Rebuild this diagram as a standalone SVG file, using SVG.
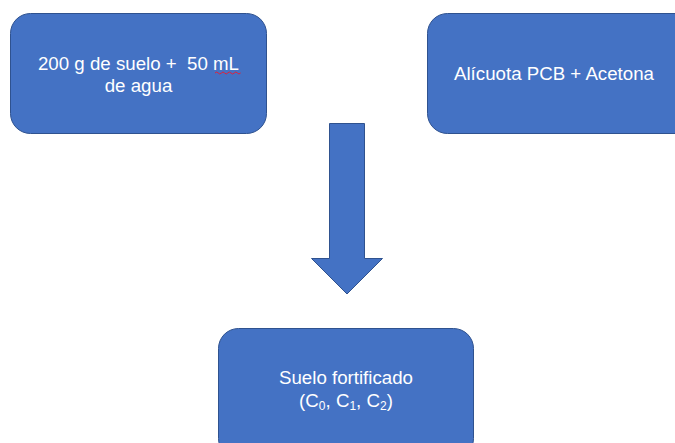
<svg xmlns="http://www.w3.org/2000/svg" width="675" height="443" viewBox="0 0 675 443">
<style>
.box{fill:#4472C4;stroke:#2F528F;stroke-width:1}
.t{fill:#FFFFFF;font-family:"Liberation Sans",Arial,sans-serif;font-size:18.7px;text-anchor:middle}
.sub{font-size:12px}
</style>
<rect width="675" height="443" fill="#FFFFFF"/>
<g id="node-suelo">
<rect class="box" x="10.5" y="13.5" width="256" height="120" rx="20"/>
<text class="t" x="138.5" y="70" xml:space="preserve">200 g de suelo +  50 mL</text>
<text class="t" x="138.5" y="92">de agua</text>
<path d="M215 73 q1.6 -2 3.2 0 t3.2 0 t3.2 0 t3.2 0 t3.2 0 t3.2 0 t3.2 0 t3.2 0" fill="none" stroke="#E0203A" stroke-width="1"/>
</g>
<g id="node-alicuota">
<rect class="box" x="427.5" y="13.5" width="270" height="120" rx="20"/>
<text class="t" x="554" y="80">Alícuota PCB + Acetona</text>
</g>
<g id="connectors">
<polygon class="box" points="329.5,123.5 364.5,123.5 364.5,258.5 382.5,258.5 347,294 311.5,258.5 329.5,258.5"/>
</g>
<g id="node-fortificado">
<rect class="box" x="218.5" y="328.5" width="255" height="130" rx="20"/>
<text class="t" x="346" y="384">Suelo fortificado</text>
<text class="t" x="346" y="407">(C<tspan class="sub" dy="3">0</tspan><tspan dy="-3">, C</tspan><tspan class="sub" dy="3">1</tspan><tspan dy="-3">, C</tspan><tspan class="sub" dy="3">2</tspan><tspan dy="-3">)</tspan></text>
</g>
</svg>
